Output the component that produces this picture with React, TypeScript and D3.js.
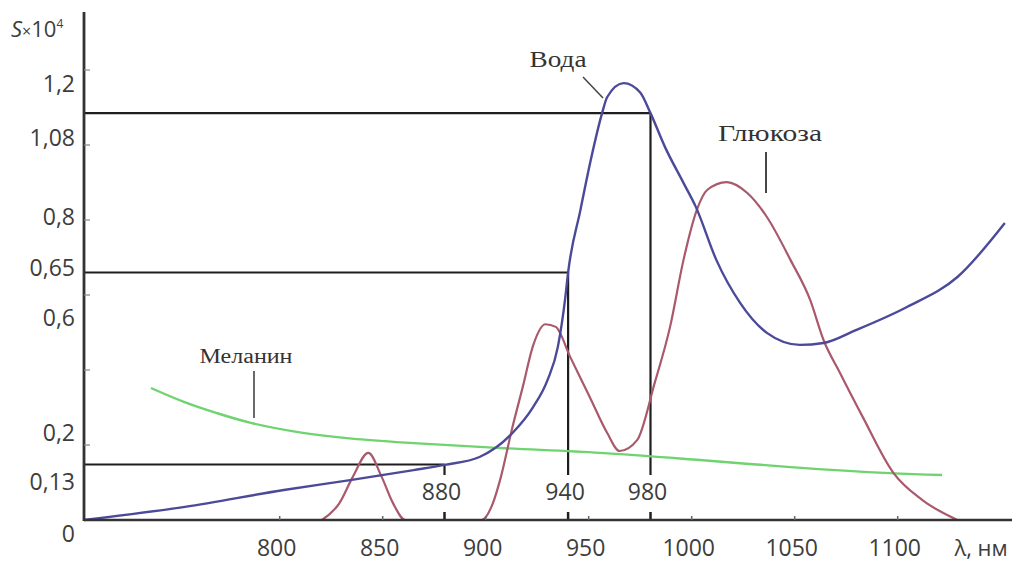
import React from 'react'
import * as d3 from 'd3'

// wavelength, nm / S x 10^4
const waterWl = [705, 754, 802, 835, 865, 880, 897, 913, 923, 930, 935, 938.5, 940, 946, 951, 956.5, 959, 967, 975, 980, 987, 996, 1002, 1012, 1023.5, 1036.5, 1052.5, 1064, 1080, 1104.5, 1129, 1152]
const waterS = [0, 0.035, 0.08, 0.107, 0.133, 0.147, 0.168, 0.232, 0.301, 0.373, 0.461, 0.587, 0.66, 0.827, 0.96, 1.085, 1.128, 1.165, 1.14, 1.085, 0.995, 0.899, 0.835, 0.693, 0.579, 0.499, 0.467, 0.472, 0.507, 0.568, 0.648, 0.792]

const glucoseWl = [820.5, 829, 835.5, 843, 849.5, 855, 861, 898, 903.5, 907, 913, 918, 923, 929, 934, 941, 950.5, 959, 965, 973.5, 982, 989.5, 996, 1002.5, 1007.5, 1017, 1027, 1036.5, 1048, 1057.5, 1064, 1072, 1083, 1098, 1112, 1129]
const glucoseS = [0, 0.045, 0.115, 0.179, 0.115, 0.045, 0, 0, 0.045, 0.107, 0.248, 0.355, 0.465, 0.522, 0.515, 0.435, 0.328, 0.232, 0.184, 0.213, 0.365, 0.515, 0.693, 0.827, 0.88, 0.901, 0.872, 0.808, 0.693, 0.587, 0.48, 0.392, 0.275, 0.125, 0.053, 0]

const melaninWl = [737.5, 753.5, 769.5, 786, 810.5, 835, 865, 907, 955.5, 1004, 1048, 1096, 1121.5]
const melaninS = [0.352, 0.315, 0.285, 0.259, 0.233, 0.217, 0.205, 0.192, 0.179, 0.16, 0.141, 0.125, 0.12]

// marked wavelengths and the levels of the guide lines
const guideWl = [880, 940, 980]
const guideS = [0.148, 0.66, 1.085]

const xTicks = [800, 850, 900, 950, 1000, 1050, 1100]
const yTicks = [0, 0.2, 0.4, 0.6, 0.8, 1.0, 1.2]
// labels on the S axis and where they sit (they are placed loosely in the source)
const yLabels = ['1,2', '1,08', '0,8', '0,65', '0,6', '0,2', '0,13', '0']
const yLabelAt = [1.163, 1.019, 0.808, 0.672, 0.539, 0.232, 0.101, -0.037]

const W = 1016, H = 565
const X0 = 84, Y0 = 520

export default function App() {
  const x = d3.scaleLinear().domain([705, 1155]).range([X0, X0 + 450 * 2.06])
  const y = d3.scaleLinear().domain([0, 1.2]).range([Y0, 70])

  const zip = (a: number[], b: number[]) => a.map((v, i) => [v, b[i]] as [number, number])
  const line = (curve: d3.CurveFactory) => d3.line<[number, number]>()
    .x(d => x(d[0]))
    .y(d => y(d[1]))
    .curve(curve)

  const sans = '"Open Sans", "DejaVu Sans", sans-serif'
  const serif = '"Liberation Serif", "DejaVu Serif", serif'
  const axisCol = '#333'
  const labelCol = '#3d3d3d'

  return (
    <svg width={W} height={H} style={{ position: 'absolute', left: 0, top: 0, background: '#fff' }}>
      {/* guide lines */}
      <g stroke="#1e1e1e" strokeWidth={2.2} fill="none">
        {guideWl.map((wl, i) => (
          <g key={wl}>
            <line x1={X0} x2={x(wl)} y1={y(guideS[i])} y2={y(guideS[i])} />
            <line x1={x(wl)} x2={x(wl)} y1={y(guideS[i])} y2={Y0 - 45} />
            <line x1={x(wl)} x2={x(wl)} y1={Y0 - 8} y2={Y0} strokeWidth={2.5} />
          </g>
        ))}
      </g>

      {/* curves */}
      <path d={line(d3.curveCatmullRom)(zip(melaninWl, melaninS)) || ''} fill="none" stroke="#6fd46f" strokeWidth={2.4} />
      <path d={line(d3.curveMonotoneX)(zip(glucoseWl, glucoseS)) || ''} fill="none" stroke="#a9596b" strokeWidth={2.2} />
      <path d={line(d3.curveMonotoneX)(zip(waterWl, waterS)) || ''} fill="none" stroke="#4b4a99" strokeWidth={2.4} />

      {/* axes */}
      <line x1={X0} x2={X0} y1={12} y2={Y0 + 1} stroke={axisCol} strokeWidth={2.8} />
      <line x1={X0} x2={1012} y1={Y0} y2={Y0} stroke={axisCol} strokeWidth={2.6} />
      {yTicks.filter(v => v > 0).map(v => (
        <line key={v} x1={X0} x2={X0 + 6} y1={y(v)} y2={y(v)} stroke="#888" strokeWidth={1.2} />
      ))}
      {xTicks.map(v => (
        <line key={v} x1={x(v)} x2={x(v)} y1={Y0 - 4} y2={Y0} stroke="#666" strokeWidth={1.5} />
      ))}

      {/* tick labels */}
      <g fontFamily={sans} fontSize={23} fill={labelCol}>
        {yLabels.map((t, i) => (
          <text key={t} x={75} y={y(yLabelAt[i])} dy="0.36em" textAnchor="end">{t}</text>
        ))}
        {xTicks.map(v => (
          <text key={v} x={x(v) - 3} y={548} dy="0.36em" textAnchor="middle">{v}</text>
        ))}
        {guideWl.map(v => (
          <text key={v} x={x(v) - 3} y={492} dy="0.36em" textAnchor="middle">{v}</text>
        ))}
        <text x={981} y={548} dy="0.36em" textAnchor="middle" fontSize={22}>λ, нм</text>
        <text x={11} y={37} fontSize={22}>
          <tspan fontStyle="italic">S</tspan>
          <tspan fontSize={16}>×</tspan>
          <tspan>10</tspan>
          <tspan fontSize={12} dy="-0.75em">4</tspan>
        </text>
      </g>

      {/* curve names */}
      <g fontFamily={serif} fill="#333">
        <text x={558} y={67} fontSize={23} textAnchor="middle" textLength={57} lengthAdjust="spacingAndGlyphs">Вода</text>
        <line x1={583} y1={77} x2={603} y2={98} stroke="#444" strokeWidth={1.5} />
        <text x={770} y={141} fontSize={23} textAnchor="middle" textLength={104} lengthAdjust="spacingAndGlyphs">Глюкоза</text>
        <line x1={766} y1={152} x2={766} y2={193} stroke="#333" strokeWidth={1.8} />
        <text x={246} y={363} fontSize={20} textAnchor="middle" textLength={93} lengthAdjust="spacingAndGlyphs">Меланин</text>
        <line x1={254} y1={371} x2={254} y2={418} stroke="#444" strokeWidth={1.6} />
      </g>
    </svg>
  )
}
